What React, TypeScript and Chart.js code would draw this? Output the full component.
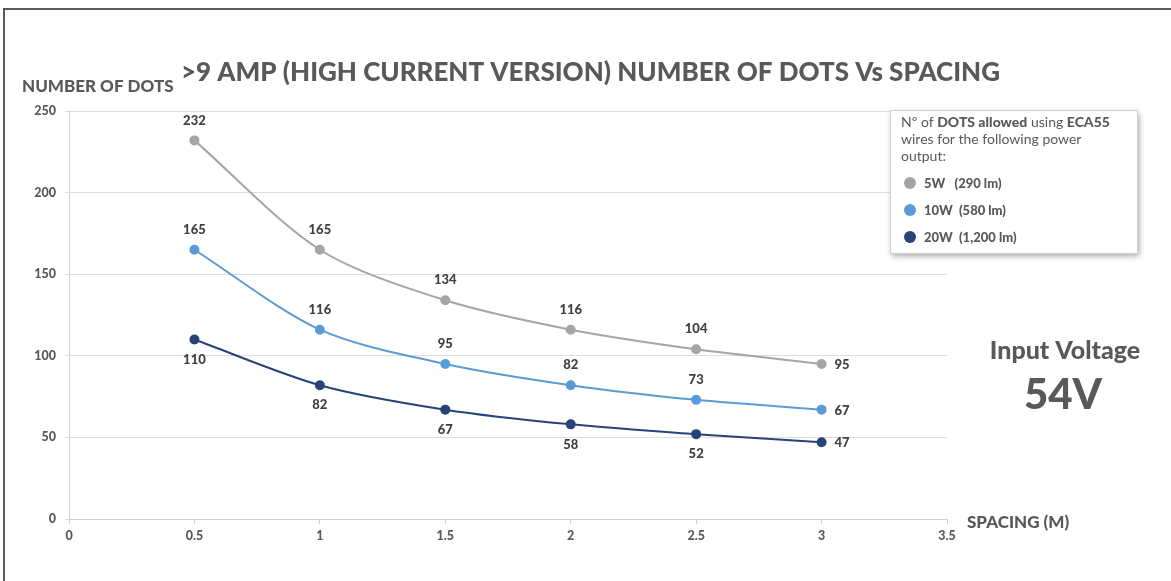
import React, { useEffect, useRef } from "react";
import { Chart, registerables } from "chart.js";

Chart.register(...registerables);

const spacing = [0.5, 1, 1.5, 2, 2.5, 3];
const dots5W = [232, 165, 134, 116, 104, 95];
const dots10W = [165, 116, 95, 82, 73, 67];
const dots20W = [110, 82, 67, 58, 52, 47];
const seriesNames = ["5W   (290 lm)", "10W  (580 lm)", "20W  (1,200 lm)"];
const seriesColors = ["#A5A5A5", "#5B9BD5", "#264478"];
const labelPlacement = ["above", "above", "below"];

const chartTitle = ">9 AMP (HIGH CURRENT VERSION) NUMBER OF DOTS Vs SPACING";
const yTitle = "NUMBER OF DOTS";
const xTitle = "SPACING (M)";
const sideLine1 = "Input Voltage";
const sideLine2 = "54V";

const FONT = "Lato, 'Open Sans', sans-serif";
const TXT = "#595959";

const decorPlugin = {
  id: "decor",
  beforeDraw(chart: any) {
    const ctx = chart.ctx;
    ctx.save();
    ctx.fillStyle = "#ffffff";
    ctx.fillRect(0, 0, chart.width, chart.height);
    ctx.restore();
  },
  afterDraw(chart: any) {
    const ctx = chart.ctx;
    ctx.save();
    // frame
    ctx.strokeStyle = "#5a5a5a";
    ctx.lineWidth = 2;
    ctx.beginPath();
    ctx.moveTo(4, chart.height);
    ctx.lineTo(4, 9);
    ctx.lineTo(chart.width, 9);
    ctx.stroke();

    // titles
    ctx.fillStyle = TXT;
    ctx.textBaseline = "middle";
    ctx.textAlign = "left";
    ctx.font = `900 26px ${FONT}`;
    ctx.fillText(chartTitle, 181, 73);
    ctx.font = `900 17px ${FONT}`;
    ctx.fillText(yTitle, 22, 87);
    ctx.fillText(xTitle, 967, 523);
    ctx.textAlign = "center";
    ctx.font = `900 25px ${FONT}`;
    ctx.fillText(sideLine1, 1065, 351);
    ctx.font = `900 42px ${FONT}`;
    ctx.fillText(sideLine2, 1063, 395);

    // data labels
    ctx.font = `900 13px ${FONT}`;
    ctx.fillStyle = "#404040";
    chart.data.datasets.forEach((ds: any, di: number) => {
      const meta = chart.getDatasetMeta(di);
      meta.data.forEach((pt: any, i: number) => {
        const v = ds.data[i].y;
        const last = i === meta.data.length - 1;
        if (last) {
          ctx.textAlign = "left";
          ctx.fillText(String(v), pt.x + 13, pt.y + 1);
        } else {
          ctx.textAlign = "center";
          const dy = labelPlacement[di] === "above" ? -20 : 20;
          ctx.fillText(String(v), pt.x, pt.y + dy);
        }
      });
    });

    // legend box
    const bx = 890, by = 110, bw = 247, bh = 143;
    ctx.save();
    ctx.shadowColor = "rgba(0,0,0,0.35)";
    ctx.shadowBlur = 6;
    ctx.shadowOffsetX = 2;
    ctx.shadowOffsetY = 3;
    ctx.fillStyle = "#ffffff";
    ctx.fillRect(bx, by, bw, bh);
    ctx.restore();
    ctx.strokeStyle = "#d0d0d0";
    ctx.lineWidth = 1;
    ctx.strokeRect(bx + 0.5, by + 0.5, bw, bh);

    ctx.textAlign = "left";
    ctx.fillStyle = TXT;
    const parts: [string, boolean][] = [
      ["Nº of ", false],
      ["DOTS allowed", true],
      [" using ", false],
      ["ECA55", true],
    ];
    let x = 901;
    parts.forEach(([t, b]) => {
      ctx.font = `${b ? "900 " : ""}14px ${FONT}`;
      ctx.fillText(t, x, 122);
      x += ctx.measureText(t).width;
    });
    ctx.font = `14px ${FONT}`;
    ctx.fillText("wires for the following power", 901, 139);
    ctx.fillText("output:", 901, 156);
    ctx.font = `900 13px ${FONT}`;
    seriesNames.forEach((name, i) => {
      const yy = 183 + i * 27;
      ctx.fillStyle = seriesColors[i];
      ctx.beginPath();
      ctx.arc(910, yy, 6, 0, Math.PI * 2);
      ctx.fill();
      ctx.fillStyle = TXT;
      ctx.fillText(name, 924, yy + 1);
    });
    ctx.restore();
  },
};

export default function App() {
  const ref = useRef<HTMLCanvasElement>(null);
  useEffect(() => {
    if (!ref.current) return;
    const mk = (vals: number[]) => spacing.map((s, i) => ({ x: s, y: vals[i] }));
    const allSeries = [dots5W, dots10W, dots20W];
    const chart = new Chart(ref.current, {
      type: "scatter",
      data: {
        datasets: allSeries.map((vals, i) => ({
          label: seriesNames[i],
          data: mk(vals),
          showLine: true,
          borderColor: seriesColors[i],
          backgroundColor: seriesColors[i],
          borderWidth: 2,
          pointRadius: 4,
          pointHoverRadius: 4,
          tension: 0.3,
        })),
      },
      options: {
        responsive: false,
        animation: false,
        events: [],
        layout: { padding: { top: 111, right: 224, left: 0, bottom: 0 } },
        plugins: { legend: { display: false }, tooltip: { enabled: false }, title: { display: false } },
        scales: {
          x: {
            type: "linear",
            min: 0,
            max: 3.5,
            afterFit: (s: any) => {
              s.height = 62;
            },
            ticks: {
              stepSize: 0.5,
              padding: 4,
              color: TXT,
              font: { family: FONT, size: 12.5, weight: "900" },
              callback: (v: any) => String(Number(v)),
            },
            grid: { drawOnChartArea: false, tickLength: 5, color: "#d0d0d0" },
            border: { color: "#d0d0d0", width: 1 },
          },
          y: {
            min: 0,
            max: 250,
            afterFit: (s: any) => {
              s.width = 69;
            },
            ticks: {
              stepSize: 50,
              padding: 9,
              color: TXT,
              font: { family: FONT, size: 12.5, weight: "900" },
              callback: (v: any) => String(Number(v)),
            },
            grid: { color: "#dedede", tickLength: 4 },
            border: { color: "#d0d0d0", width: 1 },
          },
        },
      },
      plugins: [decorPlugin],
    });
    return () => chart.destroy();
  }, []);
  return (
    <div style={{ position: "absolute", left: 0, top: 0, width: 1171, height: 581, background: "#fff" }}>
      <canvas ref={ref} width={1171} height={581} style={{ display: "block" }} />
    </div>
  );
}
